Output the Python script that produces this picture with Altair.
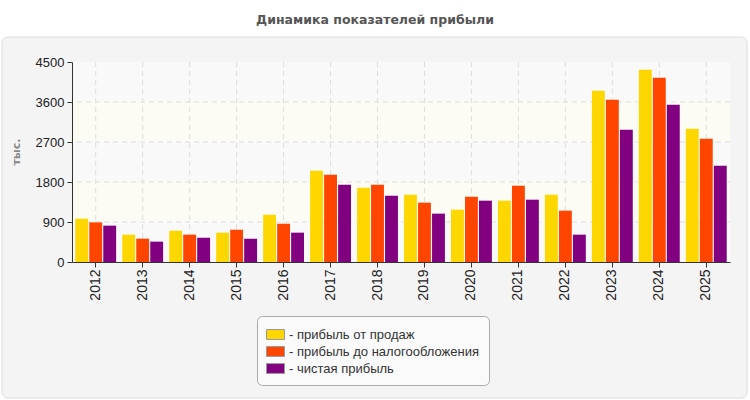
import altair as alt
import pandas as pd

# Годы и показатели прибыли, тыс.
years = ["2012", "2013", "2014", "2015", "2016", "2017", "2018",
         "2019", "2020", "2021", "2022", "2023", "2024", "2025"]
sales_profit = [975, 615, 705, 660, 1065, 2055, 1672, 1515, 1178, 1380, 1515, 3855, 4328, 3000]
pretax_profit = [892, 525, 615, 728, 862, 1965, 1740, 1335, 1470, 1718, 1155, 3652, 4148, 2775]
net_profit = [818, 458, 548, 525, 660, 1740, 1492, 1088, 1380, 1402, 615, 2978, 3540, 2168]

series_names = ["прибыль от продаж", "прибыль до налогообложения", "чистая прибыль"]
series_colors = ["#FFD700", "#FF4500", "#800080"]
y_ticks = [0, 900, 1800, 2700, 3600, 4500]

title_text = "Динамика показателей прибыли"
y_title = "тыс."

W, H = 658, 200
FONT = "Liberation Sans"

rows = []
for name, values in zip(series_names, [sales_profit, pretax_profit, net_profit]):
    for yr, v in zip(years, values):
        rows.append({"year": yr, "series": name, "value": v})
bars_df = pd.DataFrame(rows)

y_scale = alt.Scale(domain=[0, 4500], nice=False, zero=True)
x_scale = alt.Scale(domain=years, paddingInner=0.13, paddingOuter=0.07)

# axes are drawn above the panel rectangle (zindex=1)
x_axis = alt.Axis(labelAngle=-90, labelFontSize=14, labelColor="#222222",
                  labelFont=FONT, tickSize=5, tickColor="#333333",
                  domainColor="#333333", labelPadding=2, grid=False,
                  labelBaseline="middle", labelAlign="right", bandPosition=0.5,
                  zindex=1)
y_axis = alt.Axis(values=y_ticks, format="d", labelFontSize=13, labelColor="#222222",
                  labelFont=FONT, tickSize=5, tickColor="#333333",
                  domainColor="#333333", labelPadding=3, grid=False, zindex=1)

# outer panel with rounded corners
panel = alt.Chart(pd.DataFrame({"p": [1]})).mark_rect(
    fill="#f4f4f4", stroke="#dcdcdc", strokeWidth=1, cornerRadius=6
).encode(
    x=alt.value(-70), x2=alt.value(675),
    y=alt.value(-25), y2=alt.value(336),
)

title = alt.Chart(pd.DataFrame({"t": [title_text]})).mark_text(
    font="DejaVu Sans", fontSize=12.5, fontWeight="bold", color="#555555",
    align="center", baseline="middle",
).encode(x=alt.value(303), y=alt.value(-42), text="t:N")

y_label = alt.Chart(pd.DataFrame({"t": [y_title]})).mark_text(
    font="DejaVu Sans", fontSize=11, fontWeight="bold", color="#888888",
    align="center", baseline="middle", angle=270,
).encode(x=alt.value(-55), y=alt.value(90), text="t:N")


def stripe(lo_vals, hi_vals, fill):
    # horizontal background stripe between two y levels
    return alt.Chart(pd.DataFrame({"y0": lo_vals, "y1": hi_vals})).mark_rect(fill=fill).encode(
        y=alt.Y("y0:Q", scale=y_scale, axis=y_axis, title=None),
        y2="y1:Q",
    )


stripes_a = stripe([0, 1800, 3600], [900, 2700, 4500], "#f9f9f9")
stripes_b = stripe([900, 2700], [1800, 3600], "#fcfcf4")

hgrid = alt.Chart(pd.DataFrame({"v": y_ticks[1:-1]})).mark_rule(
    color="#dddddd", strokeDash=[5, 4], strokeWidth=1
).encode(y=alt.Y("v:Q", scale=y_scale, axis=y_axis, title=None))

vgrid = alt.Chart(pd.DataFrame({"year": years})).mark_rule(
    color="#dddddd", strokeDash=[5, 4], strokeWidth=1
).encode(x=alt.X("year:N", scale=x_scale, bandPosition=0.5, axis=x_axis, title=None, sort=years))

bars = alt.Chart(bars_df).mark_bar().encode(
    x=alt.X("year:N", scale=x_scale, title=None, sort=years, axis=x_axis),
    xOffset=alt.XOffset("series:N", scale=alt.Scale(domain=series_names, paddingInner=0.08), sort=series_names),
    y=alt.Y("value:Q", scale=y_scale, title=None, axis=y_axis),
    color=alt.Color(
        "series:N",
        scale=alt.Scale(domain=series_names, range=series_colors),
        sort=series_names,
        legend=alt.Legend(
            title=None, orient="none", legendX=185, legendY=254,
            direction="vertical",
            fillColor="#fafafa", strokeColor="#aaaaaa", cornerRadius=5,
            padding=9, rowPadding=0,
            labelExpr="'- ' + datum.label",
            labelFont=FONT, labelFontSize=13, labelColor="#333333", labelOffset=4,
            labelLimit=400,
            symbolType="M-1,-0.55 L1,-0.55 L1,0.55 L-1,0.55 Z",
            symbolSize=324, symbolStrokeColor="#999999", symbolStrokeWidth=1,
            symbolOpacity=1,
        ),
    ),
)

chart = alt.layer(panel, title, y_label, stripes_a, stripes_b, hgrid, vgrid, bars).properties(
    width=W, height=H,
    autosize=alt.AutoSizeParams(type="none"),
    padding={"left": 72, "top": 62, "right": 20, "bottom": 138},
    background="white",
).configure_view(stroke="#dddddd", strokeWidth=1)

chart.save("out.html", embed_options={"renderer": "svg", "actions": False})
